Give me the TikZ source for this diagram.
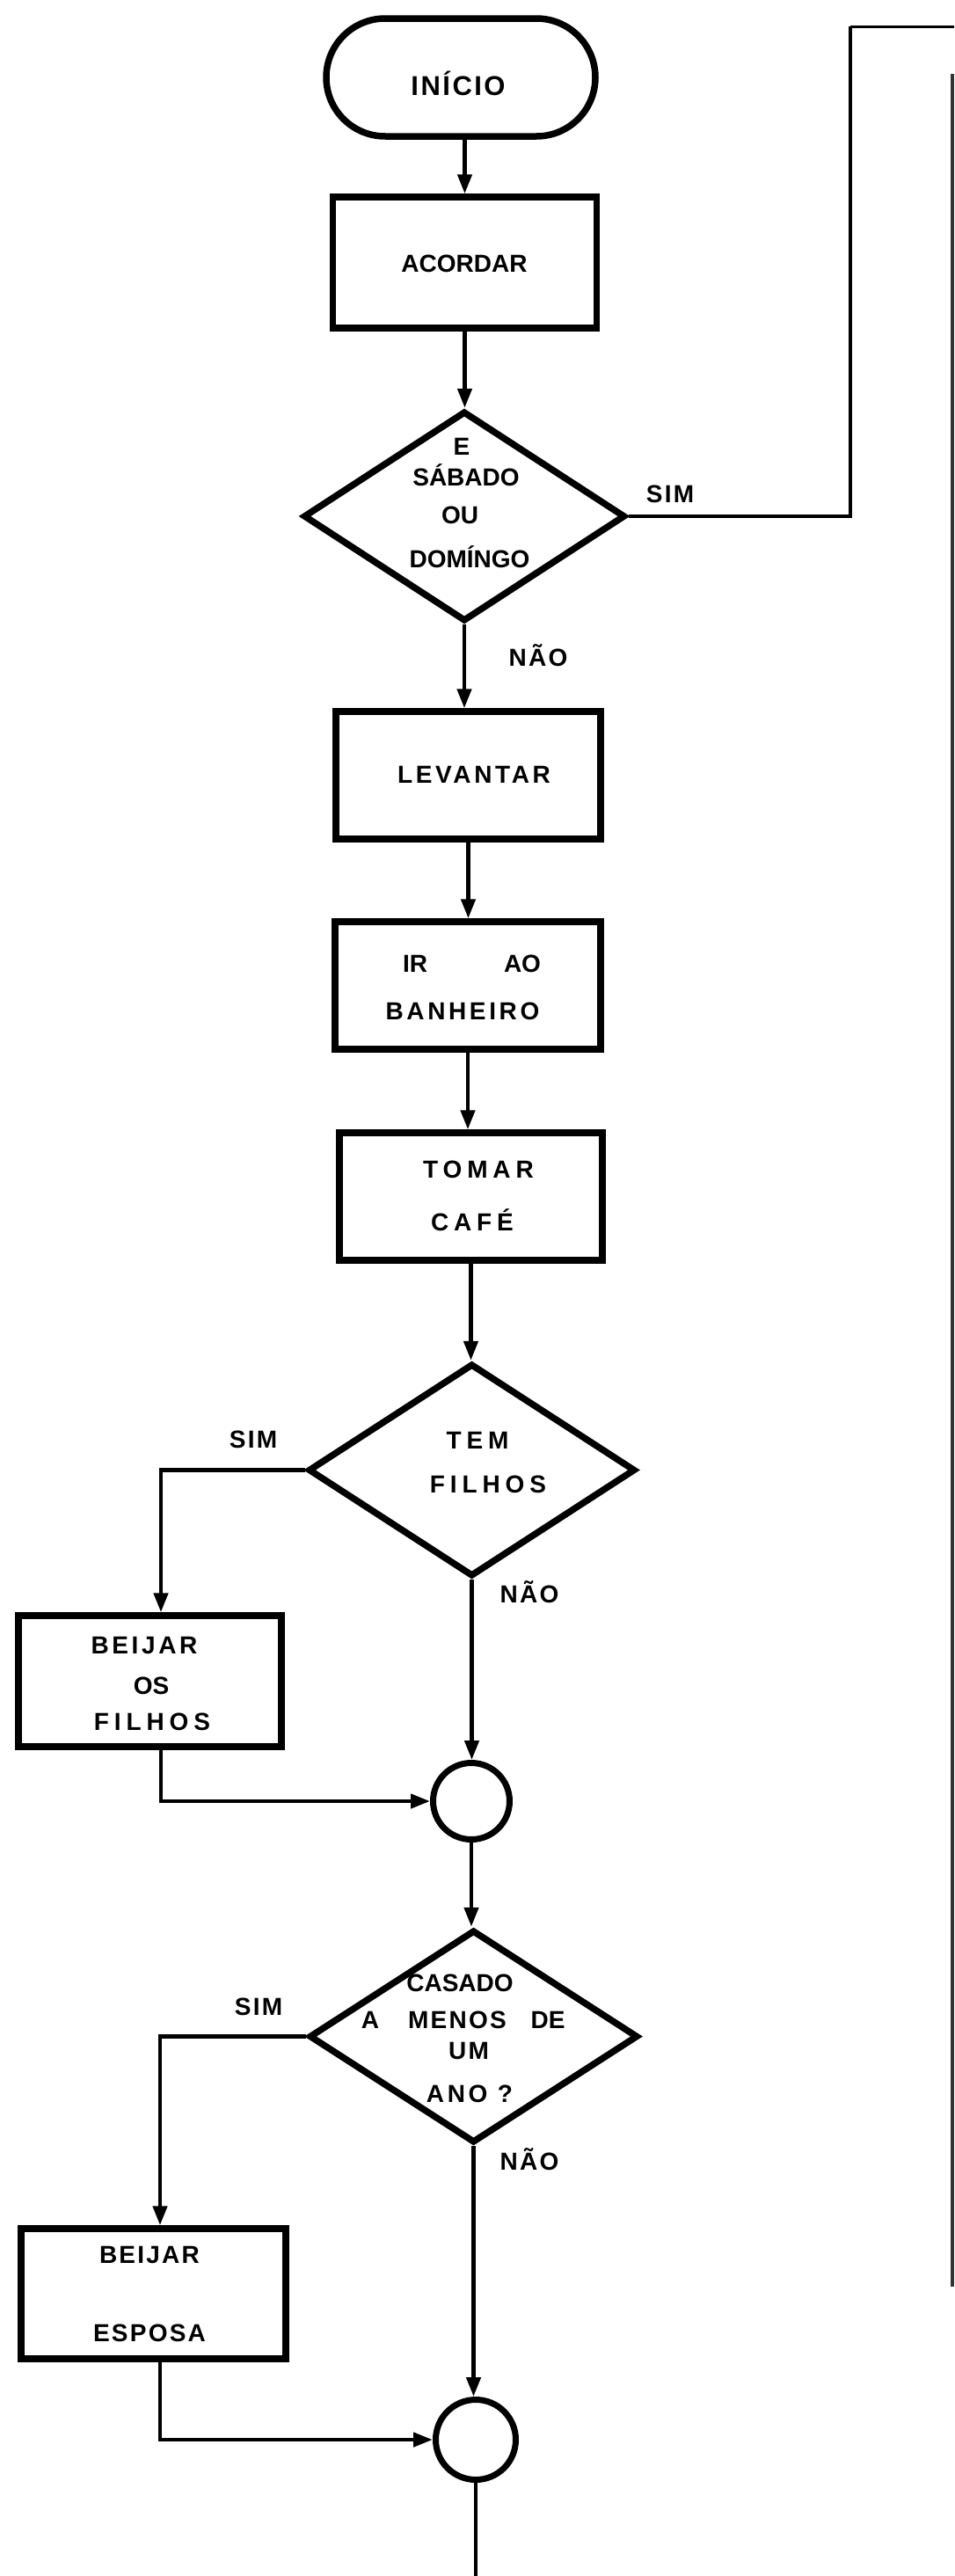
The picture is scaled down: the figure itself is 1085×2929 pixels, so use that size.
\documentclass[tikz,border=0pt]{standalone}
\usepackage{fontspec}
\setmainfont{Liberation Sans}
\newfontfamily\fzero{Liberation Sans}
\newfontfamily\fsmall[LetterSpace=8]{Liberation Sans}
\newfontfamily\fmid[LetterSpace=13]{Liberation Sans}
\newfontfamily\fwide[LetterSpace=21]{Liberation Sans}
\usetikzlibrary{shapes.geometric,shapes.misc,arrows.meta}
\begin{document}
\begin{tikzpicture}[x=1pt,y=-1pt,
  box/.style={draw, line width=7.5pt, minimum width=300pt, minimum height=147pt, inner sep=0pt},
  dia/.style={draw, diamond, line width=7.5pt, inner sep=0pt},
  term/.style={draw, rounded rectangle, line width=7.5pt, minimum width=306pt, minimum height=134pt, inner sep=0pt},
  junc/.style={draw, circle, line width=7pt, inner sep=0pt},
  lbl/.style={inner sep=0pt, text height=20pt, text depth=0pt, font=\fontsize{28}{30}\selectfont\bfseries\fzero},
  conn/.style={line width=4.5pt},
  arr/.style={conn, -{Triangle[length=22pt,width=16pt]}},
]
\useasboundingbox (0,0) rectangle (1085,2929);
\fill[white] (0,0) rectangle (1085,2929);

% shapes
\node[term] (start) at (524,88) {};
\node[box, minimum width=300pt, minimum height=149pt] (acordar) at (528.5,298.5) {};
\node[dia, minimum width=366pt, minimum height=239pt] (d1) at (528,587) {};
\node[box, minimum width=301pt, minimum height=145pt] (levantar) at (532.5,881.5) {};
\node[box, minimum width=302pt, minimum height=145pt] (banheiro) at (532,1120.5) {};
\node[box, minimum width=299pt, minimum height=145pt] (tomar) at (535.5,1360.5) {};
\node[dia, minimum width=372pt, minimum height=242pt] (d2) at (536.5,1671.5) {};
\node[box, minimum width=299pt, minimum height=149pt] (bfilhos) at (170.5,1911.5) {};
\node[junc, minimum size=87pt] (j1) at (536,2048) {};
\node[dia, minimum width=374pt, minimum height=242pt] (d3) at (538.5,2315.5) {};
\node[box, minimum width=301pt, minimum height=148pt] (besposa) at (174.5,2608) {};
\node[junc, minimum size=91pt] (j2) at (541,2774) {};

% texts
\node[lbl, text height=22pt, font=\fontsize{31}{33}\selectfont\bfseries\fsmall] (tinicio) at (521,97) {INÍCIO};
\node[lbl] (tacordar) at (528,299) {ACORDAR};
\node[lbl] (tE) at (525,507) {E};
\node[lbl] (tsabado) at (530,542) {SÁBADO};
\node[lbl] (tou) at (523,585) {OU};
\node[lbl] (tdomingo) at (534,635) {DOMÍNGO};
\node[lbl] (tsim1) at (762,561) {\fsmall SIM};
\node[lbl] (tnao1) at (612,747) {\fsmall NÃO};
\node[lbl] (tlevantar) at (539,880) {\fmid LEVANTAR};
\node[lbl] (tir) at (472,1095) {IR};
\node[lbl] (tao) at (594,1095) {AO};
\node[lbl] (tbanheiro) at (526,1149) {\fmid BANHEIRO};
\node[lbl] (ttomar) at (544,1329) {\fwide TOMAR};
\node[lbl] (tcafe) at (537,1389) {\fwide CAFÉ};
\node[lbl] (ttem) at (543,1637) {\fwide TEM};
\node[lbl] (tfilhos) at (555,1687) {\fwide FILHOS};
\node[lbl] (tsim2) at (288,1636) {\fsmall SIM};
\node[lbl] (tbeijar1) at (164,1870) {\fmid BEIJAR};
\node[lbl] (tos) at (172,1916) {OS};
\node[lbl] (tfilhos2) at (173,1957) {\fwide FILHOS};
\node[lbl] (tnao2) at (602,1812) {\fsmall NÃO};
\node[lbl] (tcasado) at (523,2254) {CASADO};
\node[lbl] (ta) at (421,2296) {A};
\node[lbl] (tmenos) at (520,2296) {\fsmall MENOS};
\node[lbl] (tde) at (623,2296) {DE};
\node[lbl] (tum) at (533,2331) {\fsmall UM};
\node[lbl] (tano) at (534,2380) {\fmid ANO ?};
\node[lbl] (tsim3) at (294,2281) {\fsmall SIM};
\node[lbl] (tnao3) at (602,2457) {\fsmall NÃO};
\node[lbl] (tbeijar2) at (170,2563) {\fsmall BEIJAR};
\node[lbl] (tesposa) at (170,2652) {\fsmall ESPOSA};

% connectors
\draw[arr] (acordar.north |- start.south) -- (acordar.north);
\draw[arr] (acordar.south) -- (acordar.south |- d1.north);
\draw[arr] (d1.south) -- (d1.south |- levantar.north);
\draw[arr] (levantar.south) -- (levantar.south |- banheiro.north);
\draw[arr] (banheiro.south) -- (banheiro.south |- tomar.north);
\draw[arr] (tomar.south) -- (tomar.south |- d2.north);
\draw[arr] (d2.south) -- (d2.south |- j1.north);
\coordinate (s2) at (183,1671.5);
\draw[arr] (d2.west) -- (s2) -- (s2 |- bfilhos.north);
\draw[arr] (s2 |- bfilhos.south) -- (s2 |- j1.west) -- (j1.west);
\draw[arr] (j1.south) -- (j1.south |- d3.north);
\coordinate (s3) at (182,2315.5);
\draw[arr] (d3.west) -- (s3) -- (s3 |- besposa.north);
\draw[arr] (s3 |- besposa.south) -- (s3 |- j2.west) -- (j2.west);
\draw[arr] (d3.south) -- (d3.south |- j2.north);
\coordinate (bot) at (541,2929);
\draw[conn] (j2.south) -- (bot);
\coordinate (r1) at (967,587);
\coordinate (r2) at (967,30);
\coordinate (r3) at (1085,30);
\draw[conn, line width=4pt] (d1.east) -- (r1) -- (r2);
\draw[line width=3pt] (r2) -- (r3);
\coordinate (e1) at (1083,84);
\coordinate (e2) at (1083,2600);
\draw[line width=3.5pt, black!80] (e1) -- (e2);
\end{tikzpicture}
\end{document}
